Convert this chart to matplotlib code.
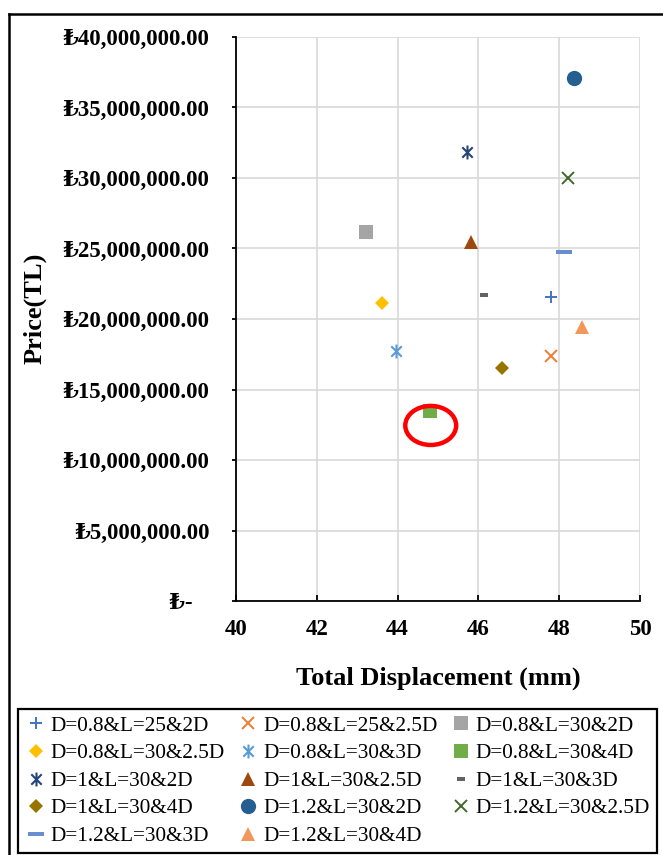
import matplotlib
matplotlib.use("Agg")
import matplotlib.pyplot as plt
from matplotlib.path import Path
from matplotlib.patches import Ellipse
from matplotlib.lines import Line2D

plt.rcParams['font.family'] = ['Liberation Serif', 'DejaVu Serif']

# ---- data ----
labels = ["D=0.8&L=25&2D", "D=0.8&L=25&2.5D", "D=0.8&L=30&2D",
          "D=0.8&L=30&2.5D", "D=0.8&L=30&3D", "D=0.8&L=30&4D",
          "D=1&L=30&2D", "D=1&L=30&2.5D", "D=1&L=30&3D",
          "D=1&L=30&4D", "D=1.2&L=30&2D", "D=1.2&L=30&2.5D",
          "D=1.2&L=30&3D", "D=1.2&L=30&4D"]
displacement = [47.79, 47.79, 43.23, 43.61, 43.96, 44.80, 45.73, 45.82,
                46.14, 46.59, 48.36, 48.22, 48.13, 48.56]
price = [21.58e6, 17.38e6, 26.19e6, 21.11e6, 17.73e6, 13.45e6, 31.87e6,
         25.48e6, 21.68e6, 16.55e6, 37.07e6, 30.00e6, 24.73e6, 19.41e6]
colors = ["#4472C4", "#ED7D31", "#A5A5A5", "#FFC000", "#5B9BD5", "#70AD47",
          "#264478", "#9E480E", "#636363", "#997300", "#255E91", "#43682B",
          "#698ED0", "#F1975A"]

xticks = [40, 42, 44, 46, 48, 50]
yticks = [0, 5e6, 10e6, 15e6, 20e6, 25e6, 30e6, 35e6, 40e6]
ytick_labels = ["\u20ba-   ", "\u20ba5,000,000.00", "\u20ba10,000,000.00",
                "\u20ba15,000,000.00", "\u20ba20,000,000.00", "\u20ba25,000,000.00",
                "\u20ba30,000,000.00", "\u20ba35,000,000.00", "\u20ba40,000,000.00"]

# highlighted point (red ellipse)
highlight_x, highlight_y = 44.82, 12.45e6
highlight_w, highlight_h = 1.26, 2.77e6

# ---- marker shapes ----
asterisk = Path([(0, -1), (0, 1), (-0.75, -0.75), (0.75, 0.75),
                 (-0.75, 0.75), (0.75, -0.75)],
                [Path.MOVETO, Path.LINETO, Path.MOVETO, Path.LINETO,
                 Path.MOVETO, Path.LINETO])
short_dash = Path([(-1, -0.45), (1, -0.45), (1, 0.45), (-1, 0.45), (-1, -0.45)],
                  [Path.MOVETO, Path.LINETO, Path.LINETO, Path.LINETO, Path.CLOSEPOLY])
long_dash = Path([(-1, -0.25), (1, -0.25), (1, 0.25), (-1, 0.25), (-1, -0.25)],
                 [Path.MOVETO, Path.LINETO, Path.LINETO, Path.LINETO, Path.CLOSEPOLY])

styles = [
    dict(marker="+", ms=9, mew=1.4),
    dict(marker="x", ms=8, mew=1.4),
    dict(marker="s", ms=9.5, mew=0),
    dict(marker="D", ms=7.5, mew=0),
    dict(marker=asterisk, ms=10, mew=1.5),
    dict(marker="s", ms=10.5, mew=0),
    dict(marker=asterisk, ms=10, mew=1.5),
    dict(marker="^", ms=10.5, mew=0),
    dict(marker=short_dash, ms=6, mew=0),
    dict(marker="D", ms=7.5, mew=0),
    dict(marker="o", ms=11, mew=0),
    dict(marker="x", ms=8, mew=1.4),
    dict(marker=long_dash, ms=11, mew=0),
    dict(marker="^", ms=10.5, mew=0),
]

fig = plt.figure(figsize=(6.63, 8.55), dpi=100)
ax = fig.add_axes([236 / 663, 1 - 601 / 855, (640 - 236) / 663, (601 - 37) / 855])

handles = []
for i in range(len(labels)):
    st = styles[i]
    h, = ax.plot([displacement[i]], [price[i]], linestyle="none",
                 marker=st["marker"], markersize=st["ms"],
                 markeredgewidth=st["mew"], color=colors[i],
                 markerfacecolor=colors[i], markeredgecolor=colors[i],
                 label=labels[i], zorder=3)
    handles.append(h)

ell = Ellipse((highlight_x, highlight_y), highlight_w, highlight_h,
              fill=False, edgecolor="#FF0000", linewidth=3.2, zorder=4)
ax.add_patch(ell)

ax.set_xlim(40, 50)
ax.set_ylim(0, 40e6)
ax.set_xticks(xticks)
ax.set_xticklabels([str(v) for v in xticks])
ax.set_yticks(yticks)
ax.set_yticklabels(ytick_labels)
ax.grid(True, color="#D9D9D9", linewidth=1.2, zorder=0)
ax.set_axisbelow(True)
for s in ["top", "right"]:
    ax.spines[s].set_visible(False)
for s in ["left", "bottom"]:
    ax.spines[s].set_linewidth(1.3)
    ax.spines[s].set_color("black")

ax.tick_params(axis="x", direction="in", length=4, width=1.3, pad=13,
               labelsize=16.5)
ax.tick_params(axis="y", direction="out", length=3, width=1.3, pad=16,
               labelsize=16.5)
for t in ax.get_xticklabels() + ax.get_yticklabels():
    t.set_fontweight("bold")

ax.set_xlabel("Total Displacement (mm)", fontsize=19, fontweight="bold",
              labelpad=19)
fig.text(35 / 663, 1 - 308 / 855, "Price(TL)", rotation=90, fontsize=19,
         fontweight="bold", ha="center", va="center")

order = [0, 3, 6, 9, 12, 1, 4, 7, 10, 13, 2, 5, 8, 11]
leg = fig.legend([handles[i] for i in order], [labels[i] for i in order],
                 ncol=3, loc="lower left",
                 bbox_to_anchor=(18 / 663, 1 - 853 / 855, (657 - 18) / 663,
                                 (853 - 712) / 855),
                 mode="expand", borderaxespad=0, fontsize=15.3,
                 frameon=True, fancybox=False, edgecolor="black",
                 handlelength=1.0, handletextpad=0.2, columnspacing=0.5,
                 labelspacing=0.36, borderpad=0.33)
leg.get_frame().set_linewidth(1.6)
leg.get_frame().set_alpha(1)

# outer frame (top and left visible)
fig.add_artist(Line2D([9 / 663, 1.0], [1 - 14 / 855, 1 - 14 / 855],
                      color="black", linewidth=1.8, transform=fig.transFigure))
fig.add_artist(Line2D([9 / 663, 9 / 663], [0, 1 - 14 / 855],
                      color="black", linewidth=1.8, transform=fig.transFigure))

fig.savefig("out.png", dpi=100)
